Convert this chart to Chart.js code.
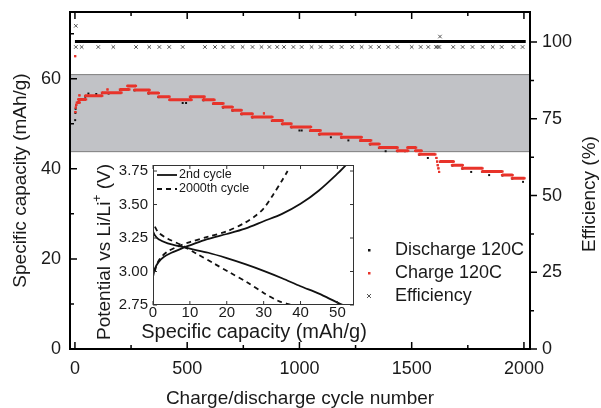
<!DOCTYPE html>
<html>
<head>
<meta charset="utf-8">
<script src="https://cdn.jsdelivr.net/npm/chart.js@4.4.1/dist/chart.umd.min.js"></script>
<style>
    html, body { margin: 0; padding: 0; background: #fff; }
    #wrap { position: relative; width: 601px; height: 408px; }
    #main { position: absolute; left: 0; top: 0; }
    #inset { position: absolute; left: 80px; top: 150px; }
</style>
</head>
<body>
<div id="wrap">
    <canvas id="main" width="601" height="408"></canvas>
    <canvas id="inset" width="300" height="205"></canvas>
</div>
<script>
// Charge capacity: runs of cycles sharing one value [first cycle, last cycle, mAh/g]
var chargeRuns = [
    [1, 1, 65.0], [2, 2, 52.6], [4, 4, 53.6], [6, 6, 54.2],
    [8, 22, 54.7], [14, 50, 55.4], [20, 20, 56.3], [45, 122, 56.2],
    [120, 208, 56.9], [145, 145, 57.6], [200, 243, 57.6], [233, 272, 58.4],
    [264, 333, 57.5], [326, 374, 56.8], [371, 422, 56.0], [420, 520, 55.3],
    [512, 578, 56.0], [570, 622, 55.3], [615, 662, 54.5], [658, 703, 53.7],
    [700, 743, 53.0], [740, 792, 52.2], [788, 880, 51.5], [842, 842, 52.3],
    [877, 926, 50.7], [922, 965, 50.0], [962, 1052, 49.3], [1047, 1095, 48.5],
    [1087, 1188, 47.7], [1185, 1278, 47.0], [1270, 1320, 46.3], [1313, 1357, 45.5],
    [1354, 1438, 44.7], [1434, 1485, 44.0], [1480, 1520, 44.7], [1515, 1545, 44.0],
    [1532, 1606, 43.2], [1610, 1610, 42.4], [1613, 1613, 41.6], [1616, 1616, 40.8],
    [1619, 1619, 40.1], [1622, 1622, 39.3], [1625, 1688, 41.6], [1679, 1728, 40.8],
    [1724, 1816, 40.1], [1813, 1905, 39.4], [1902, 1950, 38.6], [1946, 2003, 37.9]
];

// Discharge capacity (visible points)
var dischargeCycle = [1, 2, 3, 5, 20, 46, 60, 95, 122, 150, 202, 265, 328, 372, 480, 495, 514, 572, 617, 660,
    702, 742, 790, 840, 879, 924, 964, 1000, 1010, 1049, 1089, 1140, 1187, 1218, 1272, 1315, 1356, 1384, 1436, 1470,
    1534, 1572, 1627, 1681, 1726, 1765, 1815, 1845, 1904, 1948, 1996];
var dischargeCap = [50.8, 52.4, 53.3, 54.1, 55.3, 56.0, 56.7, 56.6, 56.8, 56.7, 57.5, 57.4, 56.7, 55.9, 54.6, 54.6, 55.9, 55.2, 54.4, 53.6,
    52.9, 52.1, 51.4, 51.5, 50.6, 49.9, 49.2, 48.5, 48.5, 48.4, 47.6, 47.0, 46.9, 46.3, 46.2, 45.4, 44.6, 43.9, 43.9, 43.9,
    43.1, 42.4, 41.5, 40.7, 40.0, 39.3, 39.3, 38.6, 38.5, 37.8, 37.1];

// Efficiency: most cycles sit at ~100 % and merge into a thick line
var effDenseCycle = [0, 2008];
var effDenseValue = [100.2, 100.2];
var effCycle = [4, 30, 104, 171, 272, 331, 376, 420, 480, 579, 624, 661, 702, 747, 791, 831, 866, 901, 931, 973,
    1010, 1054, 1094, 1143, 1188, 1235, 1277, 1317, 1354, 1396, 1436, 1500, 1540, 1574, 1608, 1615, 1623,
    1685, 1727, 1771, 1816, 1861, 1901, 1953, 1994, 4, 1626];
var effValue = [98.4, 98.4, 98.4, 98.4, 98.4, 98.4, 98.4, 98.4, 98.4, 98.4, 98.4, 98.4, 98.4, 98.4, 98.4, 98.4, 98.4, 98.4, 98.4, 98.4,
    98.4, 98.4, 98.4, 98.4, 98.4, 98.4, 98.4, 98.4, 98.4, 98.4, 98.4, 98.4, 98.4, 98.4, 98.4, 98.4, 98.4,
    98.4, 98.4, 98.4, 98.4, 98.4, 98.4, 98.4, 98.4, 105.3, 101.8];

// Shaded capacity band (mAh/g)
var bandCap = [43.8, 60.9];

// Axis ticks
var xTicks = [0, 500, 1000, 1500, 2000];
var xMinor = [250, 750, 1250, 1750];
var capTicks = [0, 20, 40, 60];
var capMinor = [10, 30, 50, 70];
var effTicks = [0, 25, 50, 75, 100];
var effMinor = [12.5, 37.5, 62.5, 87.5];

// Inset: voltage profiles
var cap2ndCharge = [0, 0.5, 1.5, 3, 5, 8, 10, 14.5, 20, 25, 30, 35, 40, 45, 50, 52.5];
var volt2ndCharge = [2.96, 3.02, 3.07, 3.11, 3.14, 3.175, 3.195, 3.24, 3.28, 3.32, 3.375, 3.43, 3.505, 3.605, 3.73, 3.80];
var cap2ndDischarge = [0, 0.5, 1.5, 4, 7, 10, 15, 20, 25, 30, 35, 40, 45, 49.5, 51.5];
var volt2ndDischarge = [3.30, 3.27, 3.24, 3.21, 3.19, 3.17, 3.14, 3.10, 3.055, 3.005, 2.95, 2.89, 2.835, 2.775, 2.75];
var cap2000Charge = [0.5, 1, 2, 4, 7, 10, 15, 20, 25, 28, 30, 32.5, 35, 36.5];
var volt2000Charge = [3.00, 3.05, 3.10, 3.15, 3.19, 3.22, 3.26, 3.30, 3.365, 3.42, 3.47, 3.57, 3.68, 3.75];
var cap2000Discharge = [0.5, 1.5, 4, 7.5, 12, 16.5, 21, 25.5, 30, 34, 37.5];
var volt2000Discharge = [3.335, 3.29, 3.245, 3.20, 3.13, 3.06, 2.99, 2.92, 2.84, 2.78, 2.75];
var insetXTicks = [0, 10, 20, 30, 40, 50];
var insetYTicks = [2.75, 3.00, 3.25, 3.50, 3.75];

var FONT = "'Liberation Sans', Arial, Helvetica, 'DejaVu Sans', sans-serif";
var TEXT = '#1a1a1a';
var RED = '#e8332a';
Chart.defaults.font.family = FONT;
Chart.defaults.color = TEXT;

function pairs(xs, ys) {
    return xs.map(function (x, i) { return { x: x, y: ys[i] }; });
}

function fixedTicks(list) {
    return function (axis) { axis.ticks = list.map(function (v) { return { value: v }; }); };
}

// fix the axis box size and drop the extra label padding chart.js adds
function fixSize(prop, size) {
    return function (s) {
        s[prop] = size;
        s.paddingTop = 0; s.paddingBottom = 0; s.paddingLeft = 0; s.paddingRight = 0;
    };
}

function plain(v) { return String(v); }

// charge runs -> line pieces separated by gaps
var chargePoints = [];
chargeRuns.forEach(function (r) {
    chargePoints.push({ x: r[0], y: r[2] });
    chargePoints.push({ x: r[1], y: r[2] });
    chargePoints.push({ x: r[1], y: null });
});

var bandPlugin = {
    id: 'band',
    beforeDatasetsDraw: function (chart) {
        var a = chart.chartArea, y = chart.scales.y, ctx = chart.ctx;
        var top = y.getPixelForValue(bandCap[1]), bottom = y.getPixelForValue(bandCap[0]);
        ctx.save();
        ctx.fillStyle = '#c1c2c6';
        ctx.fillRect(a.left, top, a.right - a.left, bottom - top);
        ctx.strokeStyle = '#7d7d7d';
        ctx.lineWidth = 1;
        ctx.beginPath();
        ctx.moveTo(a.left, top); ctx.lineTo(a.right, top);
        ctx.moveTo(a.left, bottom); ctx.lineTo(a.right, bottom);
        ctx.stroke();
        ctx.restore();
    }
};

var framePlugin = {
    id: 'frame',
    afterDraw: function (chart) {
        var a = chart.chartArea, s = chart.scales, ctx = chart.ctx;
        ctx.save();
        ctx.strokeStyle = '#000';
        ctx.lineWidth = 1.5;
        ctx.beginPath();
        function xt(v, len) {
            var p = s.x.getPixelForValue(v);
            ctx.moveTo(p, a.bottom); ctx.lineTo(p, a.bottom - len);
            ctx.moveTo(p, a.top); ctx.lineTo(p, a.top + len);
        }
        xTicks.forEach(function (v) { xt(v, 7); });
        xMinor.forEach(function (v) { xt(v, 4); });
        capTicks.forEach(function (v) { var p = s.y.getPixelForValue(v); ctx.moveTo(a.left, p); ctx.lineTo(a.left + 7, p); });
        capMinor.forEach(function (v) { var p = s.y.getPixelForValue(v); ctx.moveTo(a.left, p); ctx.lineTo(a.left + 4, p); });
        effTicks.forEach(function (v) { var p = s.y2.getPixelForValue(v); ctx.moveTo(a.right, p); ctx.lineTo(a.right + 7, p); });
        effMinor.forEach(function (v) { var p = s.y2.getPixelForValue(v); ctx.moveTo(a.right, p); ctx.lineTo(a.right + 4, p); });
        ctx.stroke();
        ctx.lineWidth = 2;
        ctx.strokeRect(a.left, a.top, a.right - a.left, a.bottom - a.top);

        // right axis title, reading upwards
        ctx.fillStyle = TEXT;
        ctx.font = '19px ' + FONT;
        ctx.textAlign = 'center';
        ctx.textBaseline = 'middle';
        ctx.translate(590, 194);
        ctx.rotate(-Math.PI / 2);
        ctx.fillText('Efficiency (%)', 0, 0);
        ctx.restore();

        // legend
        ctx.save();
        ctx.font = '18px ' + FONT;
        ctx.textAlign = 'left';
        ctx.textBaseline = 'middle';
        var rows = [['Discharge 120C', '#111', 250], ['Charge 120C', RED, 273], ['Efficiency', '#555', 296]];
        rows.forEach(function (r, i) {
            if (i < 2) {
                ctx.fillStyle = r[1];
                ctx.fillRect(368, r[2] - 1, 2.5, 2.5);
            } else {
                ctx.strokeStyle = r[1];
                ctx.lineWidth = 1;
                ctx.beginPath();
                ctx.moveTo(367, r[2] - 2); ctx.lineTo(371, r[2] + 2);
                ctx.moveTo(371, r[2] - 2); ctx.lineTo(367, r[2] + 2);
                ctx.stroke();
            }
            ctx.fillStyle = TEXT;
            ctx.fillText(r[0], 395, r[2]);
        });
        ctx.restore();
    }
};

var tickFont = { size: 18 };
new Chart(document.getElementById('main'), {
    type: 'scatter',
    data: {
        datasets: [{
            label: 'Charge 120C',
            data: chargePoints,
            showLine: true,
            spanGaps: false,
            borderColor: RED,
            borderWidth: 3,
            pointStyle: 'rect',
            pointRadius: 1.5,
            pointBackgroundColor: RED,
            pointBorderWidth: 0,
            yAxisID: 'y',
            order: 0
        }, {
            label: 'Discharge 120C',
            data: pairs(dischargeCycle, dischargeCap),
            pointStyle: 'rect',
            pointRadius: 1.4,
            pointBackgroundColor: '#111',
            pointBorderWidth: 0,
            yAxisID: 'y',
            order: 1
        }, {
            label: 'Efficiency',
            data: pairs(effCycle, effValue),
            pointStyle: 'crossRot',
            pointRadius: 2.5,
            pointBorderColor: '#555',
            pointBorderWidth: 1,
            yAxisID: 'y2',
            order: 2
        }, {
            label: 'Efficiency ~100%',
            data: pairs(effDenseCycle, effDenseValue),
            showLine: true,
            borderColor: '#000',
            borderWidth: 3,
            pointRadius: 0,
            yAxisID: 'y2',
            order: 3
        }]
    },
    options: {
        responsive: false,
        animation: false,
        devicePixelRatio: 1,
        layout: { padding: { top: 12, left: 0, right: 0, bottom: 0 } },
        plugins: { legend: { display: false }, tooltip: { enabled: false } },
        scales: {
            x: {
                type: 'linear', min: -22, max: 2027,
                afterBuildTicks: fixedTicks(xTicks),
                afterFit: fixSize('height', 59),
                ticks: { font: tickFont, color: TEXT, padding: 9, maxRotation: 0, callback: plain },
                grid: { display: false, drawTicks: false },
                border: { display: false },
                title: { display: true, text: 'Charge/discharge cycle number', color: TEXT,
                    font: { size: 19, lineHeight: 1 }, padding: { top: 0, bottom: 0 } }
            },
            y: {
                position: 'left', min: 0, max: 74.8,
                afterBuildTicks: fixedTicks(capTicks),
                afterFit: fixSize('width', 70),
                ticks: { font: tickFont, color: TEXT, padding: 9, callback: plain },
                grid: { display: false, drawTicks: false },
                border: { display: false },
                title: { display: true, text: 'Specific capacity (mAh/g)', color: TEXT,
                    font: { size: 19, lineHeight: 1 }, padding: { top: 11, bottom: 0 } }
            },
            y2: {
                position: 'right', min: 0, max: 109.8,
                afterBuildTicks: fixedTicks(effTicks),
                afterFit: fixSize('width', 71),
                ticks: { font: tickFont, color: TEXT, padding: 12, callback: plain },
                grid: { display: false, drawTicks: false },
                border: { display: false }
            }
        }
    },
    plugins: [bandPlugin, framePlugin]
});

// ----- inset -----
var insetPlugin = {
    id: 'insetDecor',
    beforeDraw: function (chart) {
        var a = chart.chartArea, ctx = chart.ctx;
        ctx.save();
        ctx.fillStyle = '#fff';
        ctx.fillRect(a.left, a.top, a.right - a.left, a.bottom - a.top);
        ctx.restore();
    },
    afterDraw: function (chart) {
        var a = chart.chartArea, s = chart.scales, ctx = chart.ctx;
        ctx.save();
        ctx.strokeStyle = '#333';
        ctx.lineWidth = 1;
        ctx.strokeRect(a.left + 0.5, a.top + 0.5, a.right - a.left - 1, a.bottom - a.top - 1);
        ctx.beginPath();
        insetXTicks.forEach(function (v) {
            var p = s.x.getPixelForValue(v);
            ctx.moveTo(p, a.bottom); ctx.lineTo(p, a.bottom - 4);
            ctx.moveTo(p, a.top); ctx.lineTo(p, a.top + 4);
        });
        insetYTicks.forEach(function (v) {
            var p = s.y.getPixelForValue(v);
            ctx.moveTo(a.left, p); ctx.lineTo(a.left + 4, p);
            ctx.moveTo(a.right, p); ctx.lineTo(a.right - 4, p);
        });
        ctx.stroke();

        // legend
        ctx.strokeStyle = '#111';
        ctx.lineWidth = 1.8;
        ctx.beginPath();
        ctx.moveTo(77, 25); ctx.lineTo(97, 25);
        ctx.stroke();
        ctx.setLineDash([5, 4]);
        ctx.beginPath();
        ctx.moveTo(77, 39); ctx.lineTo(97, 39);
        ctx.stroke();
        ctx.setLineDash([]);
        ctx.fillStyle = TEXT;
        ctx.font = '12.5px ' + FONT;
        ctx.textBaseline = 'middle';
        ctx.fillText('2nd cycle', 99, 25);
        ctx.fillText('2000th cycle', 99, 39);

        // axis titles
        ctx.font = '20px ' + FONT;
        ctx.textAlign = 'center';
        ctx.textBaseline = 'alphabetic';
        ctx.fillText('Specific capacity (mAh/g)', 174, 188);
        ctx.translate(30, 102);
        ctx.rotate(-Math.PI / 2);
        var main = 'Potential vs Li/Li', tail = ' (V)';
        ctx.font = '19px ' + FONT;
        var w1 = ctx.measureText(main).width, w3 = ctx.measureText(tail).width;
        ctx.font = '12px ' + FONT;
        var w2 = ctx.measureText('+').width;
        var x0 = -(w1 + w2 + w3) / 2;
        ctx.textAlign = 'left';
        ctx.font = '19px ' + FONT;
        ctx.fillText(main, x0, 0);
        ctx.fillText(tail, x0 + w1 + w2, 0);
        ctx.font = '12px ' + FONT;
        ctx.fillText('+', x0 + w1, -9);
        ctx.restore();
    }
};

var lineStyle = { showLine: true, borderColor: '#111', borderWidth: 1.8, pointRadius: 0, tension: 0.3 };
new Chart(document.getElementById('inset'), {
    type: 'scatter',
    data: {
        datasets: [
            Object.assign({ label: '2nd cycle', data: pairs(cap2ndCharge, volt2ndCharge) }, lineStyle),
            Object.assign({ label: '2nd cycle', data: pairs(cap2ndDischarge, volt2ndDischarge) }, lineStyle),
            Object.assign({ label: '2000th cycle', data: pairs(cap2000Charge, volt2000Charge), borderDash: [5, 4] }, lineStyle),
            Object.assign({ label: '2000th cycle', data: pairs(cap2000Discharge, volt2000Discharge), borderDash: [5, 4] }, lineStyle)
        ]
    },
    options: {
        responsive: false,
        animation: false,
        devicePixelRatio: 1,
        layout: { padding: { top: 15, right: 26, left: 0, bottom: 0 } },
        plugins: { legend: { display: false }, tooltip: { enabled: false } },
        scales: {
            x: {
                type: 'linear', min: 0, max: 54.5,
                afterBuildTicks: fixedTicks(insetXTicks),
                afterFit: fixSize('height', 50),
                ticks: { font: { size: 15, lineHeight: 1 }, color: TEXT, padding: 0, maxRotation: 0 },
                grid: { display: false, drawTicks: false },
                border: { display: false }
            },
            y: {
                min: 2.75, max: 3.795,
                afterBuildTicks: fixedTicks(insetYTicks),
                afterFit: fixSize('width', 73),
                ticks: { font: { size: 15 }, color: TEXT, padding: 5,
                    callback: function (v) { return v.toFixed(2); } },
                grid: { display: false, drawTicks: false },
                border: { display: false }
            }
        }
    },
    plugins: [insetPlugin]
});
</script>
</body>
</html>
